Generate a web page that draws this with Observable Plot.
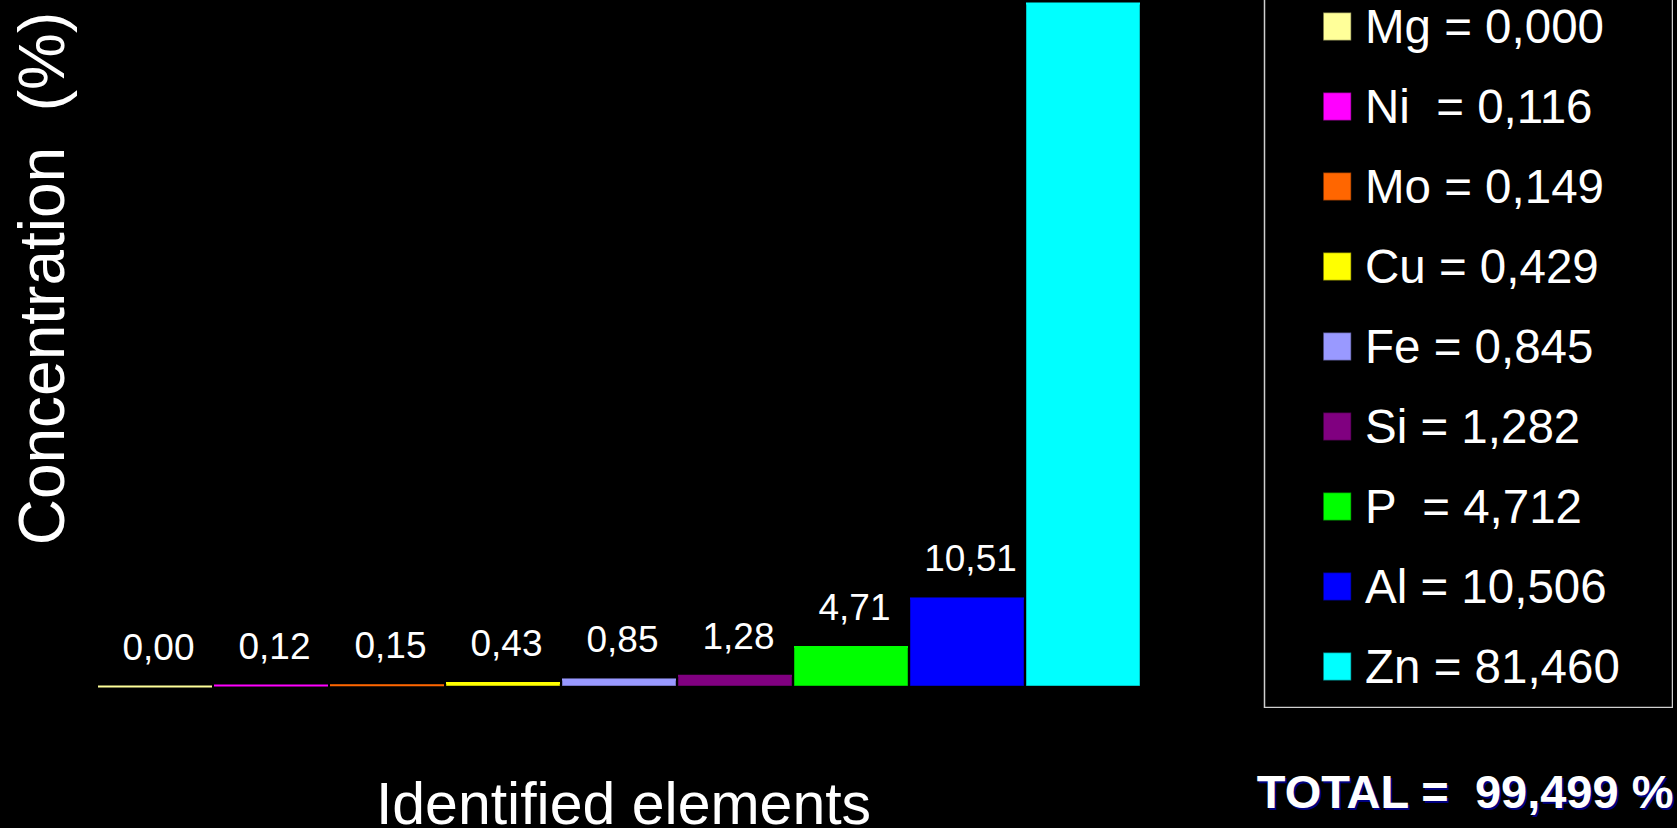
<!DOCTYPE html>
<html>
<head>
<meta charset="utf-8">
<script src="https://cdn.jsdelivr.net/npm/d3@7"></script>
<script src="https://cdn.jsdelivr.net/npm/@observablehq/plot@0.6"></script>
<style>
  html, body { margin: 0; padding: 0; background: #000; }
  #chart { position: relative; width: 1677px; height: 828px; overflow: hidden; background: #000; }
  svg text { white-space: pre; }
</style>
</head>
<body>
<div id="chart"></div>
<script>
// Elements identified in the sample, in ascending order of concentration (%)
const elements = ["Mg", "Ni", "Mo", "Cu", "Fe", "Si", "P", "Al", "Zn"];
const concentrations = [0.000, 0.116, 0.149, 0.429, 0.845, 1.282, 4.712, 10.506, 81.460];
const colors = ["#ffff99", "#ff00ff", "#ff6600", "#ffff00", "#9999ff", "#800080", "#00ff00", "#0000ff", "#00ffff"];
const legendNames = ["Mg", "Ni ", "Mo", "Cu", "Fe", "Si", "P ", "Al", "Zn"];
const yTitle = "Concentration  (%)";
const xTitle = "Identified elements";
const totalPrefix = "TOTAL =  ";
const totalUnit = " %";

const data = elements.map((element, i) => ({element, value: concentrations[i], name: legendNames[i]}));
const total = d3.sum(concentrations);
const maxValue = d3.max(concentrations);

// Decimal comma formatting, rounded half up
const comma = (v, d) => (Math.round(v * 10 ** d) / 10 ** d).toFixed(d).replace(".", ",");
const font = "'Liberation Sans', Arial, Helvetica, sans-serif";
const totalText = totalPrefix + comma(total, 3) + totalUnit;

const chart = Plot.plot({
  width: 1677,
  height: 828,
  marginLeft: 94,
  marginRight: 533,
  marginTop: 3,
  marginBottom: 142,
  style: {background: "#000", color: "#fff", fontFamily: font},
  x: {domain: elements, paddingInner: 0.02, paddingOuter: 0, axis: null},
  y: {domain: [0, maxValue], axis: null},
  color: {domain: elements, range: colors},
  marks: [
    Plot.barY(data, {x: "element", y: "value", fill: "element", stroke: "#000", strokeOpacity: 0.45, strokeWidth: 1}),
    Plot.tickY(data, {x: "element", y: "value", stroke: "element", strokeWidth: 2}),
    // value labels above the bars; the tallest bar reaches the top edge and carries none
    Plot.text(data.filter(d => d.value < maxValue), {x: "element", y: "value", text: d => comma(d.value, 2), dx: 3, dy: -27, lineAnchor: "bottom", fontSize: 37, fill: "#fff"}),
    Plot.text([yTitle], {frameAnchor: "left", rotate: -90, dx: -31, dy: -66.5, textAnchor: "middle", lineAnchor: "bottom", fontSize: 64, fill: "#fff"}),
    Plot.text([xTitle], {frameAnchor: "bottom", dx: 4, dy: 137, textAnchor: "middle", lineAnchor: "bottom", fontSize: 59, fill: "#fff"}),
    Plot.text([totalText], {frameAnchor: "bottom-right", dx: 531, dy: 123, lineAnchor: "bottom", textAnchor: "end", fontSize: 47, fontWeight: "bold", fill: "#000080"}),
    Plot.text([totalText], {frameAnchor: "bottom-right", dx: 529, dy: 121, lineAnchor: "bottom", textAnchor: "end", fontSize: 47, fontWeight: "bold", fill: "#fff"})
  ]
});

const legend = Plot.plot({
  width: 410,
  height: 724,
  margin: 1,
  style: {background: "transparent", color: "#fff", fontFamily: font},
  y: {type: "band", domain: elements, padding: 0, axis: null},
  color: {domain: elements, range: colors},
  marks: [
    Plot.frame({stroke: "#cfcfcf", strokeWidth: 1.5}),
    Plot.dot(data, {y: "element", frameAnchor: "left", dx: 72.7, symbol: "square", r: 15.8, fill: "element", stroke: "#000", strokeOpacity: 0.4}),
    Plot.text(data, {y: "element", frameAnchor: "left", dx: 100.5, dy: 1.5, textAnchor: "start", fontSize: 47.5, fill: "#fff",
      text: d => `${d.name} = ${comma(d.value, 3)}`})
  ]
});
legend.style.position = "absolute";
legend.style.left = "1263px";
legend.style.top = "-16px";

const root = document.getElementById("chart");
root.appendChild(chart);
root.appendChild(legend);
</script>
</body>
</html>
